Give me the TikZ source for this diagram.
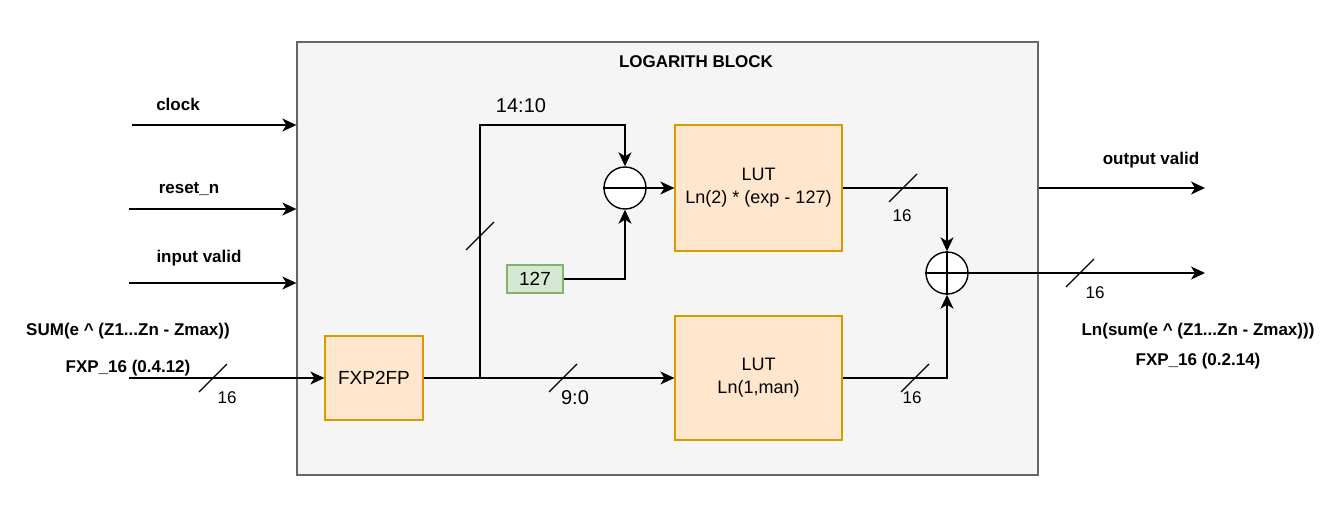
\documentclass[tikz,border=0pt]{standalone}
\usepackage{fontspec}
\setmainfont{Liberation Sans}
\usetikzlibrary{
  arrows.meta,   % Stealth arrow tips
  calc           % coordinate calculations
}
\definecolor{blockfill}{HTML}{F5F5F5}
\definecolor{blockline}{HTML}{666666}
\definecolor{lutfill}{HTML}{FFE6CC}
\definecolor{lutline}{HTML}{D79B00}
\definecolor{constfill}{HTML}{D5E8D4}
\definecolor{constline}{HTML}{82B366}
\tikzset{
  wire/.style={
    line width=1.4pt,
    color=black
  },
  sig/.style={
    wire,
    -{Stealth[length=14pt,width=13pt,inset=4pt]}
  },
  lut box/.style={
    draw=lutline,
    fill=lutfill,
    line width=1.3pt,
    align=center,
    font=\fontsize{18pt}{23pt}\selectfont
  },
  const box/.style={
    draw=constline,
    fill=constfill,
    line width=1.3pt,
    minimum width=56pt,
    minimum height=28pt,
    font=\fontsize{19pt}{23pt}\selectfont
  },
  sum node/.style={
    circle,
    draw=black,
    fill=white,
    line width=1.4pt,
    inner sep=0pt,
    minimum size=42pt
  },
  bus slash/.style={
    line width=1.2pt,
    color=black
  },
  bold label/.style={
    font=\fontsize{17pt}{20pt}\selectfont\bfseries
  },
  width label/.style={
    font=\fontsize{17pt}{20pt}\selectfont
  },
  bit label/.style={
    font=\fontsize{20pt}{24pt}\selectfont
  }
}

\begin{document}
\begin{tikzpicture}[x={(1pt,0)}, y={(0,-1pt)}]
    % canvas
    \useasboundingbox (0,0) rectangle (1329,525);

    % outer logarithm block
    \node[draw=blockline, fill=blockfill, line width=1.3pt,
          minimum width=741pt, minimum height=433pt] (blk) at (667.5,258.5) {};
    \node[bold label] (title) at (696,62) {LOGARITH BLOCK};

    % inner blocks
    \node[lut box, minimum width=98pt, minimum height=84pt,
          font=\fontsize{19pt}{23pt}\selectfont] (fxp) at (374,378) {FXP2FP};
    \node[lut box, minimum width=167pt, minimum height=126pt] (lutexp) at (758.5,188) {LUT\\Ln(2) * (exp - 127)};
    \node[lut box, minimum width=167pt, minimum height=124pt] (lutman) at (758.5,378) {LUT\\Ln(1,man)};
    \node[const box] (c127) at (535,279) {127};

    % subtractor and adder
    \node[sum node] (sub) at (625,188) {};
    \draw[wire] (sub.west) -- (sub.east);
    \node[sum node] (add) at (947,273) {};
    \draw[wire] (add.west) -- (add.east);
    \draw[wire] (add.north) -- (add.south);

    % control inputs
    \coordinate (clk) at (132,125);
    \coordinate (rst) at (129,209);
    \coordinate (vin) at (129,283);
    \draw[sig] (clk) -- (clk -| blk.west);
    \draw[sig] (rst) -- (rst -| blk.west);
    \draw[sig] (vin) -- (vin -| blk.west);
    \node[bold label] (clklbl) at (178,104) {clock};
    \node[bold label] (rstlbl) at (189,189) {reset\_n};
    \node[bold label] (vinlbl) at (199,258) {input valid};

    % data input
    \coordinate (din) at (129,378);
    \draw[sig] (din) -- (fxp.west);
    \node[bold label] (dinlbl) at (128,331) {SUM(e \textasciicircum{} (Z1...Zn - Zmax))};
    \node[bold label] (dinfmt) at (128,368) {FXP\_16 (0.4.12)};
    \draw[bus slash] (213,378) ++(-14,14) -- ++(28,-28);
    \node[width label] (w1) at (227,398) {16};

    % mantissa path
    \draw[sig] (fxp.east) -- (fxp.east -| lutman.west);
    \draw[bus slash] (563,378) ++(-14,14) -- ++(28,-28);
    \node[bit label] (manbits) at (575,398) {9:0};

    % exponent path
    \coordinate (br) at (480,378);
    \coordinate (brtop) at (480,125);
    \draw[sig] (br) -- (brtop) -| (sub.north);
    \draw[bus slash] (480,236) ++(-14,14) -- ++(28,-28);
    \node[bit label] (expbits) at (521,106) {14:10};
    \draw[sig] (c127.east) -| (sub.south);
    \draw[sig] (sub.east) -- (sub.east -| lutexp.west);

    % into the adder
    \draw[sig] (lutexp.east) -| (add.north);
    \draw[bus slash] (903,188) ++(-14,14) -- ++(28,-28);
    \node[width label] (w2) at (902,216) {16};
    \draw[sig] (lutman.east) -| (add.south);
    \draw[bus slash] (915,378) ++(-14,14) -- ++(28,-28);
    \node[width label] (w3) at (912,398) {16};

    % outputs
    \coordinate (dout) at (1205,273);
    \draw[sig] (add.east) -- (dout);
    \draw[bus slash] (1080,273) ++(-14,14) -- ++(28,-28);
    \node[width label] (w4) at (1095,293) {16};
    \coordinate (vout) at (1205,188);
    \draw[sig] (vout -| blk.east) -- (vout);
    \node[bold label] (voutlbl) at (1151,160) {output valid};
    \node[bold label] (doutlbl) at (1198,331) {Ln(sum(e \textasciicircum{} (Z1...Zn - Zmax)))};
    \node[bold label] (doutfmt) at (1198,361) {FXP\_16 (0.2.14)};
\end{tikzpicture}
\end{document}
